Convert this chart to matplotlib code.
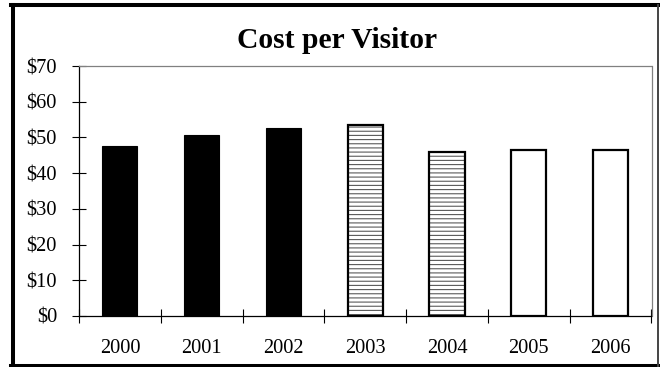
import matplotlib
matplotlib.use("Agg")
import matplotlib.pyplot as plt
from matplotlib.lines import Line2D
from matplotlib.ticker import FuncFormatter

years = ["2000", "2001", "2002", "2003", "2004", "2005", "2006"]
cost = [47.6, 50.6, 52.7, 53.5, 45.9, 46.4, 46.4]
# fill style per year: actual (solid), estimated (striped), projected (open)
styles = ["solid", "solid", "solid", "striped", "striped", "open", "open"]
y_ticks = [0, 10, 20, 30, 40, 50, 60, 70]

plt.rcParams["font.family"] = ["Liberation Serif", "DejaVu Serif"]
plt.rcParams["hatch.linewidth"] = 0.8

W, H = 660, 367
fig = plt.figure(figsize=(W / 100, H / 100), dpi=100)
ax = fig.add_axes([79 / W, 1 - 316 / H, (651.5 - 79) / W, (316 - 66) / H])

x = list(range(len(years)))
bw = 0.43
for xi, v, s in zip(x, cost, styles):
    if s == "solid":
        ax.bar(xi, v, width=bw, color="black", edgecolor="black", linewidth=0.8, zorder=3)
    elif s == "striped":
        ax.bar(xi, v, width=bw, color="white", edgecolor="#5a5a5a", hatch="----",
               linewidth=0, zorder=3)
        ax.bar(xi, v, width=bw, fill=False, edgecolor="black", linewidth=1.6, zorder=4)
    else:
        ax.bar(xi, v, width=bw, color="white", edgecolor="black", linewidth=1.6, zorder=3)

ax.set_xlim(-0.5, len(years) - 0.5)
ax.set_ylim(0, 70)
ax.set_yticks(y_ticks)
ax.yaxis.set_major_formatter(FuncFormatter(lambda v, p: f"${v:.0f}"))

# category boundaries carry the ticks, category centres carry the labels
ax.set_xticks([i - 0.5 for i in range(len(years) + 1)])
ax.set_xticklabels([])
ax.set_xticks(x, minor=True)
ax.set_xticklabels(years, minor=True)

ax.tick_params(axis="y", direction="inout", length=9.6, width=0.8, pad=11,
               labelsize=14.7, colors="black")
ax.tick_params(axis="x", which="major", direction="inout", length=9.6, width=0.8)
ax.tick_params(axis="x", which="minor", length=0, pad=16.5, labelsize=14.7)

ax.spines["left"].set_color("black")
ax.spines["bottom"].set_color("black")
ax.spines["left"].set_linewidth(0.9)
ax.spines["bottom"].set_linewidth(0.9)
ax.spines["top"].set_color("#808080")
ax.spines["right"].set_color("#808080")
ax.spines["top"].set_linewidth(0.9)
ax.spines["right"].set_linewidth(0.9)
ax.spines["bottom"].set_zorder(5)

fig.text(337 / W, 1 - 48.3 / H, "Cost per Visitor", ha="center", va="baseline",
         fontsize=21.3, fontweight="bold")

# chart frame
def fx(px):
    return px / W

def fy(py):
    return 1 - py / H

fig.add_artist(Line2D([fx(13), fx(13)], [fy(5), fy(365)], color="black", linewidth=2.9))
fig.add_artist(Line2D([fx(11), fx(658.5)], [fy(5), fy(5)], color="black", linewidth=2.9))
fig.add_artist(Line2D([fx(11), fx(658.5)], [fy(365.5), fy(365.5)], color="black", linewidth=2.9))
fig.add_artist(Line2D([fx(658.3), fx(658.3)], [fy(5), fy(365.5)], color="#444444", linewidth=1.4))

fig.savefig("out.png", dpi=100)
